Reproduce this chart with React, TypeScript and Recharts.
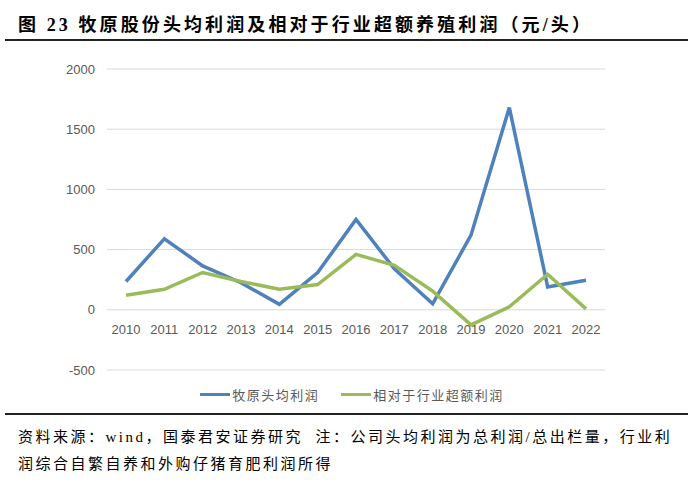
import { LineChart, Line, XAxis, YAxis, CartesianGrid, Legend } from 'recharts';

const YEARS = ['2010', '2011', '2012', '2013', '2014', '2015', '2016', '2017', '2018', '2019', '2020', '2021', '2022'];
// 牧原头均利润 (元/头)
const MUYUAN_PROFIT = [235, 590, 365, 225, 45, 310, 750, 340, 50, 620, 1680, 190, 245];
// 相对于行业超额利润 (元/头)
const EXCESS_PROFIT = [120, 170, 310, 235, 170, 210, 460, 370, 155, -125, 25, 295, 8];
const Y_TICKS = [-500, 0, 500, 1000, 1500, 2000];

const SERIES = [
  { key: 'muyuan', name: '牧原头均利润', color: '#4F81BD' },
  { key: 'excess', name: '相对于行业超额利润', color: '#9BBB59' },
];

const TITLE = '图 23 牧原股份头均利润及相对于行业超额养殖利润（元/头）';
const NOTE_LINE_1 = '资料来源：wind，国泰君安证券研究  注：公司头均利润为总利润/总出栏量，行业利';
const NOTE_LINE_2 = '润综合自繁自养和外购仔猪育肥利润所得';

const rows = YEARS.map((year, i) => ({
  year,
  muyuan: MUYUAN_PROFIT[i],
  excess: EXCESS_PROFIT[i],
}));

const AXIS_TEXT = '#595959';
const CJK = '"Liberation Serif", "Noto Sans CJK SC", serif';

// Excel draws the category labels right under the zero line, not at the bottom
function YearTick({ x, y, payload }: any) {
  return (
    <text x={x} y={y - 44} textAnchor="middle" fill={AXIS_TEXT}
      fontSize={13} fontFamily='"Liberation Sans", sans-serif'>
      {payload.value}
    </text>
  );
}

function LegendRow() {
  return (
    <div style={{ display: 'flex', justifyContent: 'center', paddingLeft: 10, height: 20, alignItems: 'center' }}>
      {SERIES.map((s, i) => (
        <div key={s.key} style={{ display: 'flex', alignItems: 'center', marginLeft: i ? 22 : 0 }}>
          <span style={{ display: 'inline-block', width: 30, height: 3, background: s.color }} />
          <span style={{
            color: AXIS_TEXT, fontSize: 13, letterSpacing: 1.5,
            fontFamily: '"Noto Sans CJK SC", sans-serif', marginLeft: 2,
          }}>{s.name}</span>
        </div>
      ))}
    </div>
  );
}

export default function App() {
  return (
    <div style={{ position: 'absolute', left: 0, top: 0, width: 694, height: 486, background: '#fff', overflow: 'hidden' }}>
      <div style={{
        position: 'absolute', left: 18, top: 10, whiteSpace: 'nowrap',
        fontFamily: CJK, fontWeight: 700, fontSize: 18, letterSpacing: 3.1, color: '#000',
      }}>{TITLE}</div>
      <div style={{ position: 'absolute', left: 5, top: 39, width: 683, height: 2, background: '#222' }} />

      <LineChart width={694} height={486} data={rows} margin={{ top: 69, right: 89, left: 57, bottom: 82 }}>
        <CartesianGrid vertical={false} stroke="#D9D9D9" strokeWidth={1} />
        <XAxis
          dataKey="year"
          height={14}
          axisLine={false}
          tickLine={false}
          interval={0}
          padding={{ left: 19, right: 19 }}
          tick={<YearTick />}
        />
        <YAxis
          width={50}
          domain={[-500, 2000]}
          ticks={Y_TICKS}
          axisLine={false}
          tickLine={false}
          tickMargin={6}
          tick={{ fontSize: 13, fill: AXIS_TEXT, fontFamily: '"Liberation Sans", sans-serif' }}
        />
        <Legend
          verticalAlign="bottom"
          height={20}
          wrapperStyle={{ left: 0, width: 694, top: 384, bottom: 'auto' }}
          content={<LegendRow />}
        />
        {SERIES.map(s => (
          <Line
            key={s.key}
            dataKey={s.key}
            name={s.name}
            stroke={s.color}
            strokeWidth={3.5}
            dot={false}
            activeDot={false}
            type="linear"
            isAnimationActive={false}
          />
        ))}
      </LineChart>

      <div style={{ position: 'absolute', left: 5, top: 413, width: 683, height: 2, background: '#222' }} />
      <div style={{
        position: 'absolute', left: 18, top: 424, whiteSpace: 'pre',
        fontFamily: CJK, fontSize: 15, lineHeight: '27px', color: '#000', letterSpacing: 2.5,
      }}>
        <div>{NOTE_LINE_1}</div>
        <div>{NOTE_LINE_2}</div>
      </div>
    </div>
  );
}
